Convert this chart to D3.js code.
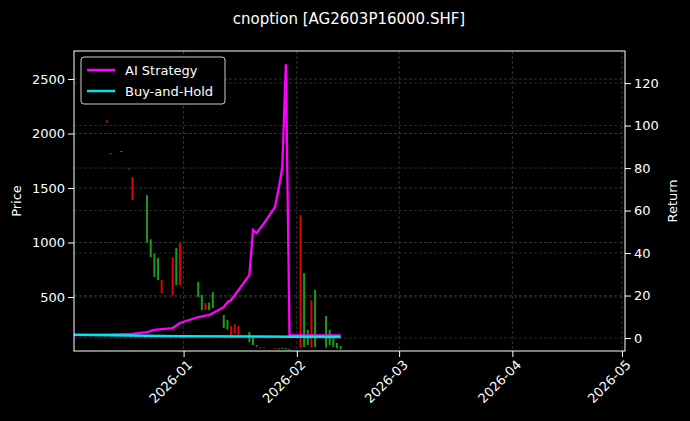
<!DOCTYPE html>
<html><head><meta charset="utf-8">
<script src="https://cdn.jsdelivr.net/npm/d3@7"></script>
<style>body{margin:0;background:#000}svg{display:block}text{font-family:"DejaVu Sans",sans-serif}</style>
</head><body><svg id="c" width="690" height="421"></svg>
<script>
const title = "cnoption [AG2603P16000.SHF]";
const candleDates = ["2025-12-11","2025-12-12","2025-12-15","2025-12-17","2025-12-18","2025-12-22","2025-12-23","2025-12-24","2025-12-25","2025-12-26","2025-12-29","2025-12-30","2025-12-31","2026-01-05","2026-01-06","2026-01-07","2026-01-08","2026-01-09","2026-01-12","2026-01-13","2026-01-14","2026-01-15","2026-01-16","2026-01-19","2026-01-20","2026-01-21","2026-01-22","2026-01-23","2026-01-26","2026-01-27","2026-01-28","2026-01-29","2026-01-30","2026-02-02","2026-02-03","2026-02-04","2026-02-05","2026-02-06","2026-02-09","2026-02-10","2026-02-11","2026-02-12","2026-02-13"];
const opens  = [2100,1820,1840,1670,1390,1435,1030,900,860,535,520,950,610,640,520,380,450,545,335,290,150,170,150,180,125,60,30,30,20,30,35,30,25,35,720,200,35,565,325,200,120,80,50];
const closes = [2120,1810,1830,1680,1600,1000,865,685,655,655,865,610,995,500,380,445,380,400,215,200,235,250,235,85,60,45,40,40,30,20,25,20,20,1250,40,60,470,40,35,60,40,30,20];
const stratDates = ["2025-12-02","2025-12-10","2025-12-18","2025-12-22","2025-12-24","2025-12-26","2025-12-29","2025-12-31","2026-01-05","2026-01-07","2026-01-08","2026-01-12","2026-01-13","2026-01-14","2026-01-16","2026-01-19","2026-01-20","2026-01-21","2026-01-23","2026-01-26","2026-01-27","2026-01-28","2026-01-29","2026-01-30","2026-02-13"];
const stratValues = [1.4,1.6,2.0,2.8,3.8,4.2,4.7,7.1,9.9,10.6,10.8,14.5,16.9,17.9,22.5,29.6,50.8,49.4,54,61.6,70,80,128.9,1.4,1.2];
const bhDates = ["2025-12-02","2025-12-31","2026-02-13"];
const bhValues = [1.6,0.9,0.5];
const xTicks = ["2026-01-01","2026-02-01","2026-03-01","2026-04-01","2026-05-01"];
const priceTicks = [500,1000,1500,2000,2500];
const retTicks = [0,20,40,60,80,100,120];

const p = d3.timeParse("%Y-%m-%d");
const svg = d3.select("#c");
const L=74,R=625,T=51,B=351;
const x = d3.scaleTime().domain([p("2025-12-02"),new Date(2026,4,1,20)]).range([L,R]);
const y = d3.scaleLinear().domain([5,2757]).range([B,T]);
const y2 = d3.scaleLinear().domain([-6.1,135.1]).range([B,T]);
svg.append("rect").attr("width",690).attr("height",421).attr("fill","#000");
const g = svg.append("g");
g.selectAll(".gx").data(xTicks).join("line").attr("x1",d=>x(p(d))).attr("x2",d=>x(p(d))).attr("y1",T).attr("y2",B)
 .attr("stroke","#555").attr("stroke-width",0.6).attr("stroke-dasharray","3,2");
g.selectAll(".gy").data(priceTicks).join("line").attr("x1",L).attr("x2",R).attr("y1",d=>y(d)).attr("y2",d=>y(d))
 .attr("stroke","#555").attr("stroke-width",0.6).attr("stroke-dasharray","3,2");
g.selectAll(".gy2").data(retTicks).join("line").attr("x1",L).attr("x2",R).attr("y1",d=>y2(d)).attr("y2",d=>y2(d))
 .attr("stroke","#444").attr("stroke-width",0.6).attr("stroke-dasharray","3,2");
const cd = candleDates.map((d,i)=>({d:p(d),o:opens[i],c:closes[i]}));
g.selectAll(".cd").data(cd).join("rect")
 .attr("x",d=>x(d.d)-1).attr("width",2)
 .attr("y",d=>y(Math.max(d.o,d.c))).attr("height",d=>Math.max(1,Math.abs(y(d.o)-y(d.c))))
 .attr("fill",d=>d.c>=d.o?"#e00000":"#1a9a1a");
const line = d3.line().x(d=>x(d[0])).y(d=>y2(d[1]));
g.append("path").datum(stratDates.map((d,i)=>[p(d),stratValues[i]])).attr("d",line).attr("fill","none").attr("stroke","#ff00ff").attr("stroke-width",2.3);
g.append("path").datum(bhDates.map((d,i)=>[p(d),bhValues[i]])).attr("d",line).attr("fill","none").attr("stroke","#00e5ee").attr("stroke-width",2.5);
const ax = svg.append("g").attr("transform",`translate(0,${B})`).call(d3.axisBottom(x).tickValues(xTicks.map(p)).tickFormat(d3.timeFormat("%Y-%m")).tickSizeOuter(0));
ax.selectAll("text").attr("transform","rotate(-45)").attr("text-anchor","end").attr("dx","-0.3em").attr("dy","0.6em");
const ayl = svg.append("g").attr("transform",`translate(${L},0)`).call(d3.axisLeft(y).tickValues(priceTicks).tickFormat(d3.format("d")).tickSizeOuter(0));
const ayr = svg.append("g").attr("transform",`translate(${R},0)`).call(d3.axisRight(y2).tickValues(retTicks).tickFormat(d3.format("d")).tickSizeOuter(0));
[ax,ayl,ayr].forEach(a=>{a.select(".domain").remove();a.selectAll("line").attr("stroke","#fff");a.selectAll("text").attr("fill","#fff").style("font-size","13px");});
svg.append("rect").attr("x",L).attr("y",T).attr("width",R-L).attr("height",B-T).attr("fill","none").attr("stroke","#fff").attr("stroke-width",1);
svg.append("text").attr("x",349).attr("y",24).attr("text-anchor","middle").attr("fill","#fff").style("font-size","15px").text(title);
svg.append("text").attr("transform",`translate(21,${(T+B)/2}) rotate(-90)`).attr("text-anchor","middle").attr("fill","#fff").style("font-size","13px").text("Price");
svg.append("text").attr("transform",`translate(677,${(T+B)/2}) rotate(-90)`).attr("text-anchor","middle").attr("fill","#fff").style("font-size","13px").text("Return");
const lg = svg.append("g");
lg.append("rect").attr("x",81).attr("y",57).attr("width",144).attr("height",47).attr("rx",3).attr("fill","#000").attr("stroke","#ccc").attr("stroke-width",1);
[["AI Strategy","#ff00ff"],["Buy-and-Hold","#00e5ee"]].forEach((e,i)=>{
 const yy=70+i*21;
 lg.append("line").attr("x1",87).attr("x2",115).attr("y1",yy).attr("y2",yy).attr("stroke",e[1]).attr("stroke-width",2.5);
 lg.append("text").attr("x",125).attr("y",yy+4.5).attr("fill","#fff").style("font-size","13px").text(e[0]);
});
</script></body></html>
